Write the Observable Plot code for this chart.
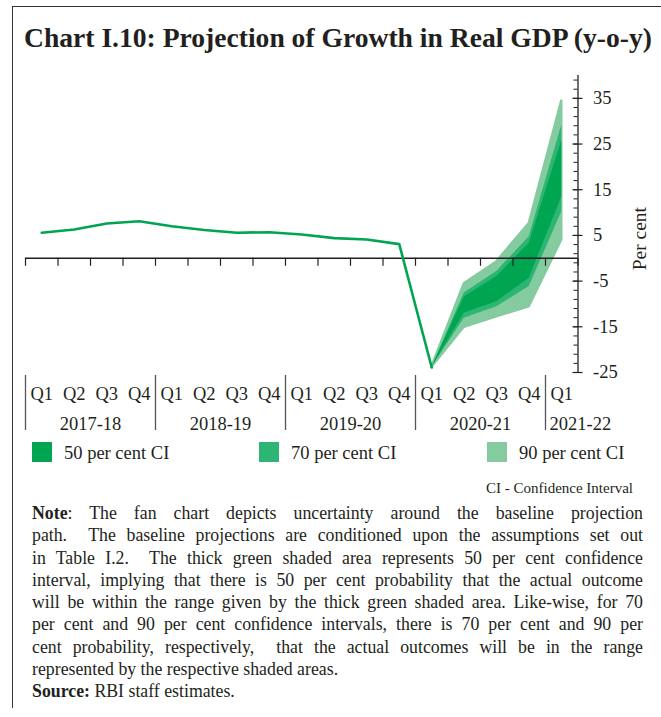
<!DOCTYPE html>
<html>
<head>
<meta charset="utf-8">
<script src="https://cdn.jsdelivr.net/npm/d3@7"></script>
<script src="https://cdn.jsdelivr.net/npm/@observablehq/plot@0.6"></script>
<style>
  body { margin: 0; background: #fff; }
  #root { position: relative; width: 661px; height: 717px; overflow: hidden; font-family: "Liberation Serif", serif; color: #231f20; }
  .abs { position: absolute; }
  .swatch { position: absolute; width: 20px; height: 20px; }
  .leg { position: absolute; font-size: 18.5px; line-height: 20px; white-space: nowrap; }
  .note { position: absolute; left: 32px; width: 611px; font-size: 17.8px; line-height: 22.3px; }
  .note div { text-align: justify; text-align-last: justify; white-space: normal; }
  .note div.last { text-align: left; text-align-last: left; }
</style>
</head>
<body>
<div id="root">
  <div class="abs" style="left:11.5px;top:6px;width:700px;height:701px;border-left:1.3px solid #333;border-top:1.3px solid #333;"></div>
  <svg class="abs" style="left:0;top:0" width="661" height="60">
    <text x="24" y="47" font-family="Liberation Serif" font-weight="bold" font-size="28" fill="#231f20" textLength="628" lengthAdjust="spacingAndGlyphs">Chart I.10: Projection of Growth in Real GDP (y-o-y)</text>
  </svg>
  <div id="chart" class="abs" style="left:0;top:60px"></div>
  <div id="cats" class="abs" style="left:0;top:372px"></div>
  <div id="legend"></div>
  <div class="abs" style="right:28px;top:481px;font-size:15px;line-height:15px;white-space:nowrap">CI - Confidence Interval</div>
  <div class="note" style="top:502px">
    <div><b>Note</b>: The fan chart depicts uncertainty around the baseline projection</div>
    <div>path.&nbsp; The baseline projections are conditioned upon the assumptions set out</div>
    <div>in Table I.2.&nbsp; The thick green shaded area represents 50 per cent confidence</div>
    <div>interval, implying that there is 50 per cent probability that the actual outcome</div>
    <div>will be within the range given by the thick green shaded area. Like-wise, for 70</div>
    <div>per cent and 90 per cent confidence intervals, there is 70 per cent and 90 per</div>
    <div>cent probability, respectively,&nbsp; that the actual outcomes will be in the range</div>
    <div class="last">represented by the respective shaded areas.</div>
    <div class="last"><b>Source:</b> RBI staff estimates.</div>
  </div>
</div>
<script>
// ---------- data ----------
const quarters = ["Q1","Q2","Q3","Q4","Q1","Q2","Q3","Q4","Q1","Q2","Q3","Q4","Q1","Q2","Q3","Q4","Q1"];
const years = ["2017-18","2018-19","2019-20","2020-21","2021-22"];
// actual real GDP growth (y-o-y, per cent), Q1 2017-18 .. Q1 2020-21
const actual = [5.6, 6.3, 7.6, 8.1, 7.0, 6.2, 5.6, 5.7, 5.2, 4.4, 4.1, 3.1, -23.9];
// fan chart bands, Q1 2020-21 .. Q1 2021-22
const ci50Lo = [-23.9, -12.0, -9.5, -4.4, 13.4];
const ci50Hi = [-23.9, -8.5, -4.0, 3.3, 25.8];
const ci70Lo = [-23.9, -13.1, -10.6, -6.2, 10.2];
const ci70Hi = [-23.9, -7.6, -2.9, 4.7, 29.1];
const ci90Lo = [-23.9, -15.1, -12.8, -10.6, 4.0];
const ci90Hi = [-23.9, -5.6, -0.8, 7.6, 34.4];
const yTickLabels = [-25, -15, -5, 5, 15, 25, 35];
const legendLabels = ["50 per cent CI", "70 per cent CI", "90 per cent CI"];

// ---------- styling ----------
const c50 = "#00a551", c70 = "#2cb573", c90 = "#84cc9f", cLine = "#00a551", ink = "#231f20";
const n = quarters.length;
const fanStart = actual.length - 1;

const actualRows = actual.map((v, i) => ({i, v}));
const fan = ci50Lo.map((_, k) => ({
  i: fanStart + k,
  lo50: ci50Lo[k], hi50: ci50Hi[k],
  lo70: ci70Lo[k], hi70: ci70Hi[k],
  lo90: ci90Lo[k], hi90: ci90Hi[k]
}));
const boundaries = d3.range(n + 1).map(k => k - 0.5);
const yMin = -25, yMax = 40;
const minorTicks = d3.range(yMin, yMax + 0.001, 2);

const chart = Plot.plot({
  width: 661, height: 322,
  marginTop: 15, marginBottom: 10, marginLeft: 25, marginRight: 83.5,
  x: {domain: [-0.5, n - 0.5], axis: null},
  y: {domain: [yMin, yMax], axis: null},
  style: {fontFamily: "Liberation Serif", fontSize: "18.5px", color: ink, background: "transparent", overflow: "visible"},
  marks: [
    Plot.areaY(fan, {x: "i", y1: "lo90", y2: "hi90", fill: c90, stroke: c90, strokeWidth: 2.5, strokeLinejoin: "round"}),
    Plot.areaY(fan, {x: "i", y1: "lo70", y2: "hi70", fill: c70}),
    Plot.areaY(fan, {x: "i", y1: "lo50", y2: "hi50", fill: c50}),
    Plot.ruleY([0], {stroke: ink, strokeWidth: 1.3}),
    Plot.ruleX(boundaries, {x: d => d, y1: 0, y2: -1.75, stroke: ink, strokeWidth: 1.2}),
    Plot.line(actualRows, {x: "i", y: "v", stroke: cLine, strokeWidth: 2.6, strokeLinejoin: "round", strokeLinecap: "round"}),
    Plot.ruleX([n - 0.5], {stroke: ink, strokeWidth: 1.3}),
    Plot.ruleY(minorTicks, {y: d => d, x1: n - 0.5, x2: n - 0.5, insetLeft: -4, insetRight: 0, stroke: ink, strokeWidth: 1}),
    Plot.ruleY(yTickLabels, {y: d => d, x1: n - 0.5, x2: n - 0.5, insetLeft: -5, insetRight: -5, stroke: ink, strokeWidth: 1.2}),
    Plot.text(yTickLabels, {y: d => d, text: d => String(d), frameAnchor: "right", dx: 15, textAnchor: "start", fill: ink}),
    Plot.text(["Per cent"], {text: d => d, frameAnchor: "right", rotate: -90, dx: 62, dy: -17, fontSize: 19.5, fill: ink})
  ]
});
document.getElementById("chart").appendChild(chart);

// category axis (quarters and fiscal years)
const yearStarts = years.map((_, k) => k * 4 - 0.5);
const fullYears = years.filter((_, k) => k * 4 + 3 < n);
const partYears = years.filter((_, k) => k * 4 + 3 >= n);
const cats = Plot.plot({
  width: 661, height: 62,
  marginTop: 3, marginBottom: 4, marginLeft: 25, marginRight: 83.5,
  x: {domain: [-0.5, n - 0.5], axis: null},
  style: {fontFamily: "Liberation Serif", fontSize: "18.5px", color: ink, background: "transparent", overflow: "visible"},
  marks: [
    Plot.ruleX(yearStarts, {x: d => d, stroke: "#555", strokeWidth: 1.3}),
    Plot.text(quarters, {x: (d, i) => i, text: d => d, frameAnchor: "top", dy: 11.5, fill: ink}),
    Plot.text(fullYears, {x: d => years.indexOf(d) * 4 + 1.5, text: d => d, frameAnchor: "top", dy: 41.5, fill: ink}),
    Plot.text(partYears, {x: d => years.indexOf(d) * 4 - 0.5, text: d => d, frameAnchor: "top", dy: 41.5, dx: 4, textAnchor: "start", fill: ink})
  ]
});
document.getElementById("cats").appendChild(cats);

// legend
const legendColors = [c50, c70, c90];
const swatchX = [32, 259, 487];
const legend = document.getElementById("legend");
legendLabels.forEach((lab, k) => {
  const sw = document.createElement("div");
  sw.className = "swatch";
  sw.style.left = swatchX[k] + "px";
  sw.style.top = "442px";
  sw.style.background = legendColors[k];
  legend.appendChild(sw);
  const t = document.createElement("div");
  t.className = "leg";
  t.style.left = (swatchX[k] + 32) + "px";
  t.style.top = "443px";
  t.textContent = lab;
  legend.appendChild(t);
});
</script>
</body>
</html>
